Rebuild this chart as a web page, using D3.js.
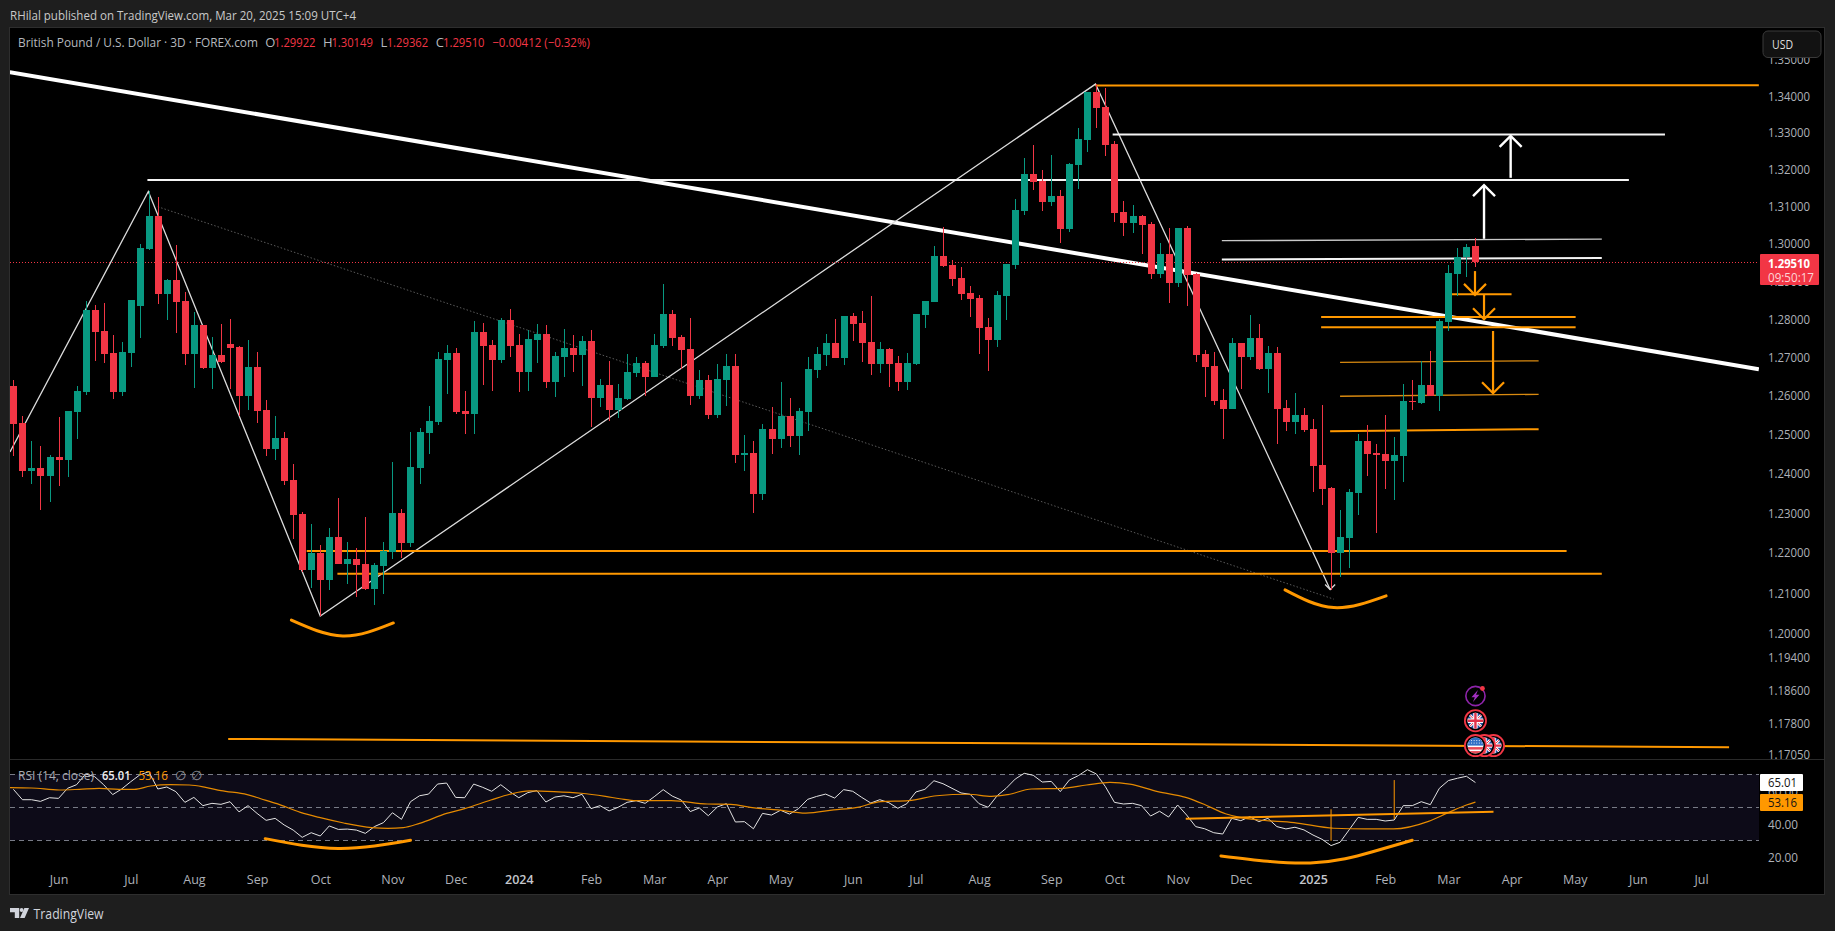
<!DOCTYPE html>
<html><head><meta charset="utf-8"><title>GBP/USD 3D</title>
<script src="https://cdn.jsdelivr.net/npm/d3@7"></script>
<style>html,body{margin:0;padding:0;background:#1e1e1e;overflow:hidden}svg{display:block}text{font-family:"Open Sans","Liberation Sans",sans-serif}</style>
</head><body><svg id="c" width="1835" height="931"></svg>
<script>
const opens=[1.2625,1.2530,1.2406,1.2414,1.2393,1.2442,1.2434,1.2557,1.2609,1.2823,
1.2768,1.2710,1.2609,1.2710,1.2834,1.2985,1.3073,1.2865,1.2902,1.2847,
1.2708,1.2784,1.2671,1.2705,1.2734,1.2726,1.2599,1.2674,1.2563,1.2462,
1.2491,1.2383,1.2297,1.2157,1.2199,1.2132,1.2239,1.2172,1.2184,1.2172,
1.2109,1.2167,1.2202,1.2300,1.2224,1.2414,1.2503,1.2532,1.2692,1.2710,
1.2560,1.2552,1.2765,1.2731,1.2692,1.2797,1.2731,1.2661,1.2744,1.2760,
1.2635,1.2700,1.2724,1.2705,1.2742,1.2594,1.2627,1.2563,1.2591,1.2658,
1.2684,1.2648,1.2729,1.2813,1.2752,1.2721,1.2599,1.2640,1.2550,1.2640,
1.2677,1.2447,1.2452,1.2348,1.2514,1.2488,1.2547,1.2496,1.2557,1.2666,
1.2705,1.2737,1.2697,1.2807,1.2789,1.2739,1.2682,1.2721,1.2684,1.2635,
1.2682,1.2810,1.2844,1.2966,1.2942,1.2908,1.2868,1.2855,1.2779,1.2744,
1.2860,1.2942,1.3087,1.3187,1.3168,1.3111,1.3127,1.3038,1.3211,1.3279,
1.3410,1.3369,1.3268,1.3084,1.3054,1.3073,1.3052,1.2918,1.2972,1.2894,
1.3041,1.2918,1.2708,1.2677,1.2588,1.2565,1.2737,1.2700,1.2750,1.2669,
1.2710,1.2568,1.2532,1.2550,1.2514,1.2421,1.2363,1.2199,1.2237,1.2351,
1.2483,1.2452,1.2450,1.2432,1.2444,1.2586,1.2581,1.2627,1.2599,1.2792,
1.2918,1.2964,1.29922];
const highs=[1.2640,1.2547,1.2483,1.2470,1.2447,1.2545,1.2560,1.2625,1.2847,1.2836,
1.2842,1.2758,1.2739,1.2850,1.2998,1.3141,1.3124,1.2905,1.2995,1.2871,
1.2818,1.2784,1.2752,1.2786,1.2799,1.2729,1.2744,1.2713,1.2588,1.2547,
1.2506,1.2424,1.2302,1.2272,1.2219,1.2262,1.2338,1.2227,1.2212,1.2290,
1.2174,1.2227,1.2429,1.2310,1.2506,1.2516,1.2573,1.2713,1.2731,1.2724,
1.2612,1.2794,1.2789,1.2744,1.2802,1.2826,1.2760,1.2771,1.2786,1.2784,
1.2713,1.2773,1.2758,1.2755,1.2771,1.2643,1.2690,1.2630,1.2708,1.2700,
1.2690,1.2760,1.2892,1.2823,1.2758,1.2802,1.2666,1.2653,1.2682,1.2708,
1.2708,1.2498,1.2483,1.2526,1.2570,1.2635,1.2594,1.2568,1.2700,1.2726,
1.2760,1.2799,1.2807,1.2815,1.2820,1.2860,1.2739,1.2724,1.2703,1.2710,
1.2813,1.2847,1.2993,1.3044,1.2956,1.2937,1.2887,1.2863,1.2802,1.2873,
1.2945,1.3119,1.3230,1.3265,1.3197,1.3238,1.3143,1.3216,1.3312,1.3410,
1.3432,1.3421,1.3276,1.3114,1.3103,1.3076,1.3057,1.3001,1.3041,1.3041,
1.3046,1.2921,1.2718,1.2713,1.2617,1.2750,1.2737,1.2810,1.2786,1.2729,
1.2726,1.2588,1.2607,1.2568,1.2539,1.2575,1.2366,1.2307,1.2361,1.2501,
1.2524,1.2475,1.2550,1.2493,1.2630,1.2640,1.2690,1.2716,1.2799,1.2942,
1.2988,1.2998,1.30149];
const lows=[1.2444,1.2391,1.2373,1.2307,1.2328,1.2368,1.2391,1.2488,1.2601,1.2690,
1.2684,1.2591,1.2599,1.2674,1.2750,1.2982,1.2839,1.2797,1.2763,1.2679,
1.2619,1.2669,1.2617,1.2684,1.2617,1.2547,1.2563,1.2529,1.2444,1.2434,
1.2371,1.2234,1.2152,1.2112,1.2042,1.2107,1.2172,1.2122,1.2089,1.2107,
1.2069,1.2097,1.2184,1.2187,1.2214,1.2373,1.2450,1.2524,1.2604,1.2552,
1.2501,1.2501,1.2627,1.2612,1.2684,1.2700,1.2609,1.2612,1.2684,1.2619,
1.2596,1.2648,1.2661,1.2625,1.2519,1.2570,1.2534,1.2542,1.2588,1.2648,
1.2599,1.2648,1.2724,1.2729,1.2669,1.2575,1.2591,1.2539,1.2542,1.2573,
1.2427,1.2406,1.2300,1.2333,1.2450,1.2465,1.2467,1.2447,1.2509,1.2645,
1.2677,1.2697,1.2679,1.2742,1.2687,1.2653,1.2658,1.2622,1.2612,1.2614,
1.2679,1.2776,1.2844,1.2937,1.2887,1.2850,1.2805,1.2708,1.2664,1.2726,
1.2797,1.2932,1.3076,1.3143,1.3087,1.3100,1.3001,1.3030,1.3146,1.3246,
1.3312,1.3235,1.3057,1.3020,1.3028,1.2972,1.2905,1.2908,1.2842,1.2884,
1.2834,1.2687,1.2596,1.2575,1.2488,1.2565,1.2617,1.2692,1.2666,1.2606,
1.2475,1.2509,1.2501,1.2506,1.2353,1.2320,1.2107,1.2139,1.2162,1.2295,
1.2393,1.2249,1.2361,1.2333,1.2378,1.2563,1.2578,1.2599,1.2560,1.2768,
1.2860,1.2910,1.29362];
const closes=[1.2527,1.2406,1.2414,1.2393,1.2442,1.2434,1.2560,1.2612,1.2823,1.2765,
1.2708,1.2609,1.2713,1.2850,1.2988,1.3073,1.2865,1.2902,1.2844,1.2708,
1.2784,1.2671,1.2705,1.2687,1.2724,1.2599,1.2674,1.2560,1.2462,1.2491,
1.2381,1.2295,1.2157,1.2199,1.2132,1.2239,1.2172,1.2184,1.2169,1.2109,
1.2169,1.2204,1.2300,1.2224,1.2416,1.2506,1.2534,1.2695,1.2710,1.2557,
1.2552,1.2765,1.2729,1.2692,1.2797,1.2729,1.2661,1.2747,1.2760,1.2635,
1.2703,1.2724,1.2705,1.2742,1.2594,1.2627,1.2563,1.2594,1.2661,1.2684,
1.2648,1.2731,1.2813,1.2750,1.2718,1.2599,1.2640,1.2550,1.2643,1.2677,
1.2447,1.2452,1.2348,1.2514,1.2488,1.2547,1.2496,1.2560,1.2669,1.2708,
1.2737,1.2697,1.2807,1.2786,1.2737,1.2682,1.2721,1.2682,1.2635,1.2684,
1.2813,1.2847,1.2966,1.2940,1.2905,1.2865,1.2852,1.2776,1.2744,1.2863,
1.2945,1.3089,1.3187,1.3165,1.3111,1.3127,1.3038,1.3214,1.3282,1.3410,
1.3366,1.3265,1.3081,1.3054,1.3073,1.3049,1.2918,1.2972,1.2894,1.3041,
1.2916,1.2705,1.2674,1.2586,1.2565,1.2737,1.2700,1.2750,1.2669,1.2710,
1.2565,1.2532,1.2550,1.2511,1.2419,1.2360,1.2199,1.2239,1.2353,1.2483,
1.2450,1.2447,1.2432,1.2447,1.2586,1.2583,1.2627,1.2599,1.2794,1.2921,
1.2964,1.2990,1.29510];
const rsi=[60.9,54.6,54.6,53.6,55.8,55.4,61.5,63.7,70.2,68.6,63.7,57.7,61.1,65.5,69.6,71.6,61.1,62.3,59.5,53,
56,51,52.4,51.8,53.4,47.2,51,46.3,42.1,43.3,39.3,36.2,31.8,34.6,32.6,38.7,36.6,36.8,36.2,34.2,
38.3,40.7,46.7,42.7,53.4,57,58,64.1,64.7,56,55.8,64.1,62.1,59.7,63.7,59.5,55.8,58.9,60.1,53.2,
56.2,57,55.8,57.9,49.2,51,47.8,50,
53,54,52.4,56.4,60.7,56.8,54.4,47.4,49.6,44.9,50.2,52.2,41.1,41.3,37,46.3,45.3,48.2,45.9,49.2,
54.8,56.6,58,55.6,60.7,59.7,56,52.6,54.6,52.8,49.4,52.2,59.3,60.9,66.1,64.3,61.5,58.7,57.9,52.2,
50,57,61.5,67.1,70.6,69.4,65.3,65.7,59.5,66.5,69.2,72.8,70.2,62.5,53,52,52.4,51,44.7,47.6,
44.1,51.4,45.3,38.3,37,34.6,33.8,43.3,41.9,
44.3,41.3,43.3,38.3,36.9,37.9,36.3,33.2,30.6,26.8,28.8,36.3,43.9,42.7,42.7,41.7,42.3,51,51,53.4,
51.6,61.5,66.2,67.6,68.8,65.01];
const rsiMaBars=[-0.4,2,5.1,7.3,9.5,11.7,13.4,15.2,17.4,19.5,21.3,23,25.9,27.4,29.2,31.8,34,36.6,39.7,41.5,43.2,45,48,50,52.9,55,57.2,59.9,62.9,65.6,67.2,69,72.9,76.9,79.5,82.1,84.7,87.8,90.9,93.5,96.1,99.2,102.3,105.8,108.4,110.2,112.8,116.3,118.9,121.5,123.7,126.8,129.9,132.1,134.3,135.9,138,141.9,146.3,149.8,152.9,156.8,159,161,162];
const rsiMaVals=[61.9,61.7,60.5,60.9,61.5,60.9,60.9,62.9,63.7,63.5,62.1,60.1,57.7,55.2,52.2,46.9,43.7,40.5,37.7,37.2,37.7,40.3,46.3,49.2,54.4,57.9,59.9,59.5,58.5,56.6,55.2,54,54,52,51.8,49.6,48.4,46.5,48.4,50,53.4,54,57,57.9,56.6,57.7,61.1,61.5,63.5,65.1,64.1,59.5,56,51.4,46.1,43.9,42.3,40.7,37.3,36.9,36.9,41.5,46.8,51.4,53.16];
const priceTicks=[1.35,1.34,1.33,1.32,1.31,1.30,1.29,1.28,1.27,1.26,1.25,1.24,1.23,1.22,1.21,1.20,1.194,1.186,1.178,1.1705];
const rsiTicks=[60,40,20];
const timeTickBars=[5,13,20,27,34,42,49,56,64,71,78,85,93,100,107,115,122,129,136,144,152,159,166,173,180,187];
const timeTickLabels=["Jun","Jul","Aug","Sep","Oct","Nov","Dec","2024","Feb","Mar","Apr","May","Jun","Jul","Aug","Sep","Oct","Nov","Dec","2025","Feb","Mar","Apr","May","Jun","Jul"];
const trendline=[[-0.4,1.3465],[193.4,1.2668]];
const zigzag=[[-0.38,1.2455],[14.95,1.3139],[34,1.2042],[119.9,1.3432],[145.9,1.2108]];
const dottedLine=[[16,1.3098],[146.3,1.2084]];
const whiteLevelsThick=[[14.85,1.3170,179,1.3170],[121.8,1.3294,183,1.3294],[133.9,1.2957,176,1.2961]];
const whiteLevelsThin=[[133.9,1.3007,176,1.3011]];
const orangeLevels=[[119.9,1.3428,193.4,1.3429],[32.5,1.2204,172.1,1.2204],[35.9,1.2147,176,1.2147],[144.9,1.2805,173.1,1.2805],[144.9,1.2778,173.1,1.2778],[159.4,1.2865,166,1.2865],[145.9,1.2508,169,1.2513],[23.8,1.1742,190.1,1.1722]];
const orangeLevelsThin=[[147,1.2686,169,1.2690],[147,1.2598,169,1.2603]];
const whiteArrows=[[165.9,1.3176,1.3290],[162.95,1.3012,1.3156]];
const orangeArrows=[[161.95,1.2926,1.2863],[162.95,1.2863,1.2799],[163.95,1.2768,1.2606]];
const priceArcs=[[[30.8,1.2032],[36.5,1.1993],[42.1,1.2025]],[[140.9,1.2107],[146.3,1.2063],[152.1,1.2092]]];
const rsiArcs=[[[27.9,31],[36,25.1],[44,30]],[[133.8,20.5],[143.7,16.3],[150.6,23.1],[155,30]]];
const rsiLevels=[70,50,30];
const rsiTrend=[[129.9,43.1],[164,47.3]];
const rsiVerticals=[[146,48.8,29.7],[153,66.5,42.9]];
const eventMarkers=[[162,1.1846,"flash"],[162,1.1786,"uk"],[164,1.1726,"uk"],[163,1.1726,"uk"],[162,1.1726,"us"]];

const GREEN="#089981",RED="#f23645",OR="#ff9800",AX="#aeb1b8";
const svg=d3.select("#c");
const defs=svg.append("defs");
const PL=10,PR=1759,PT=28,PB=759,RB=871;
defs.append("clipPath").attr("id","cm").append("rect").attr("x",PL).attr("y",PT).attr("width",PR-PL).attr("height",PB-PT);
defs.append("clipPath").attr("id","cr").append("rect").attr("x",PL).attr("y",PB).attr("width",PR-PL).attr("height",RB-PB);
defs.append("clipPath").attr("id","fl").append("circle").attr("r",8);

const x=d3.scaleLinear().domain([0,162]).range([13.4,1475.45]);
const y=d3.scaleLog().domain([1.17,1.35]).range([756.4,59.5]);
const ry=d3.scaleLinear().domain([30,70]).range([840.3,774.3]);
const px=b=>Math.round(x(b));

svg.append("rect").attr("width",1835).attr("height",931).attr("fill","#1e1e1e");
svg.append("rect").attr("x",9.5).attr("y",27.5).attr("width",1815).attr("height",867).attr("fill","#000").attr("stroke","#2e2e2e").attr("stroke-width",1);
svg.append("line").attr("x1",10).attr("x2",1824).attr("y1",759.5).attr("y2",759.5).attr("stroke","#2a2a2a");

function txt(g,s,xp,yp,size,fill,w,o={}){
  const t=g.append("text").attr("x",xp).attr("y",yp).attr("font-size",size).attr("fill",fill).attr("dominant-baseline","central").text(s);
  if(w){t.attr("textLength",w).attr("lengthAdjust","spacingAndGlyphs");}
  if(o.weight)t.attr("font-weight",o.weight);
  if(o.anchor)t.attr("text-anchor",o.anchor);
  return t;
}

// RSI band
svg.append("rect").attr("x",PL).attr("width",PR-PL).attr("y",ry(70)).attr("height",ry(30)-ry(70)).attr("fill","#0d0b18");
svg.append("g").selectAll("line").data(rsiLevels).join("line").attr("x1",PL).attr("x2",PR).attr("y1",d=>Math.round(ry(d))+.5).attr("y2",d=>Math.round(ry(d))+.5).attr("stroke","#787b86").attr("stroke-dasharray","5 4");

// axes
const priceAxis=d3.axisRight(y).tickValues(priceTicks).tickFormat(d3.format(".5f")).tickSize(0).tickPadding(0);
const gp=svg.append("g").attr("transform","translate(1768,0)").call(priceAxis);
const rsiAxis=d3.axisRight(ry).tickValues(rsiTicks).tickFormat(d3.format(".2f")).tickSize(0).tickPadding(0);
const gr=svg.append("g").attr("transform","translate(1768,0)").call(rsiAxis);
const timeAxis=d3.axisBottom(x).tickValues(timeTickBars).tickFormat((d,i)=>timeTickLabels[i]).tickSize(0).tickPadding(0);
const gt=svg.append("g").attr("transform","translate(0,876)").call(timeAxis);
[gp,gr,gt].forEach(g=>{g.select(".domain").remove();g.selectAll("text").attr("fill",AX).attr("font-size",12.5).attr("font-family","'Open Sans',sans-serif");});
gp.selectAll("text").attr("dy","0.35em").attr("textLength",42).attr("lengthAdjust","spacingAndGlyphs");
gr.selectAll("text").attr("dy","0.35em").attr("textLength",30).attr("lengthAdjust","spacingAndGlyphs");
gt.selectAll("text").attr("dy","0.6em").filter((d,i)=>/^20/.test(timeTickLabels[i])).attr("font-weight",600).attr("fill","#c4c6cc");

// main pane drawings
const m=svg.append("g").attr("clip-path","url(#cm)");
const ln=d3.line().x(d=>x(d[0])).y(d=>y(d[1]));
const segs=(g,data,w,col)=>g.append("g").selectAll("line").data(data).join("line")
  .attr("x1",d=>x(d[0])).attr("y1",d=>y(d[1])).attr("x2",d=>x(d[2])).attr("y2",d=>y(d[3])).attr("stroke",col).attr("stroke-width",w);
m.append("path").attr("d",ln(dottedLine)).attr("fill","none").attr("stroke","#5a5a5a").attr("stroke-width",1).attr("stroke-dasharray","1.5 2");
m.append("path").attr("d",ln(trendline)).attr("fill","none").attr("stroke","#fff").attr("stroke-width",4);
m.append("path").attr("d",ln(zigzag)).attr("fill","none").attr("stroke","#dcdcdc").attr("stroke-width",1.3);
segs(m,whiteLevelsThick,2,"#f4f4f4");
segs(m,whiteLevelsThin,1.3,"#c8c8c8");
segs(m,orangeLevels,2,OR);
segs(m,orangeLevelsThin,1.3,"#d98a10");
const arc=d3.line().x(d=>x(d[0])).y(d=>y(d[1])).curve(d3.curveNatural);
m.append("g").selectAll("path").data(priceArcs).join("path").attr("d",arc).attr("fill","none").attr("stroke",OR).attr("stroke-width",3).attr("stroke-linecap","round");
function arrows(g,data,col,w){
  const a=g.append("g").attr("fill","none").attr("stroke",col).attr("stroke-width",w);
  a.selectAll("line").data(data).join("line").attr("x1",d=>x(d[0])).attr("x2",d=>x(d[0])).attr("y1",d=>y(d[1])).attr("y2",d=>y(d[2]));
  a.selectAll("path").data(data).join("path").attr("d",d=>{const X=x(d[0]),Y=y(d[2]),s=Y<y(d[1])?1:-1;return `M${X-11},${Y+s*11}L${X},${Y}L${X+11},${Y+s*11}`;});
}
arrows(m,whiteArrows,"#fff",2.4);
arrows(m,orangeArrows,OR,2.2);
// arrow head at zigzag end
const zz=zigzag[zigzag.length-1];
m.append("path").attr("d",`M${x(zz[0])-5},${y(zz[1])-5}L${x(zz[0])},${y(zz[1])}L${x(zz[0])+5},${y(zz[1])-5}`).attr("fill","none").attr("stroke","#dcdcdc").attr("stroke-width",1.3);
// last price line
m.append("line").attr("x1",PL).attr("x2",PR).attr("y1",Math.round(y(1.2951))+.5).attr("y2",Math.round(y(1.2951))+.5).attr("stroke",RED).attr("stroke-dasharray","1 2");

// candles
const idx=d3.range(opens.length);
const col=i=>closes[i]>=opens[i]?GREEN:RED;
const cg=m.append("g").attr("shape-rendering","crispEdges");
cg.selectAll("line").data(idx).join("line").attr("x1",i=>px(i)+.5).attr("x2",i=>px(i)+.5).attr("y1",i=>y(highs[i])).attr("y2",i=>y(lows[i])).attr("stroke",col);
cg.selectAll("rect").data(idx).join("rect").attr("x",i=>px(i)-3).attr("width",7)
 .attr("y",i=>y(Math.max(opens[i],closes[i]))).attr("height",i=>Math.max(1,Math.abs(y(opens[i])-y(closes[i])))).attr("fill",col);

// event markers
function ukFlag(g){
  g.append("circle").attr("r",8).attr("fill","#1f4e9c");
  const c=g.append("g").attr("clip-path","url(#fl)");
  c.append("path").attr("d","M-9,-9L9,9M9,-9L-9,9").attr("stroke","#fff").attr("stroke-width",2.6);
  c.append("path").attr("d","M-9,-9L9,9M9,-9L-9,9").attr("stroke","#e0324a").attr("stroke-width",1);
  c.append("path").attr("d","M0,-9V9M-9,0H9").attr("stroke","#fff").attr("stroke-width",4.4);
  c.append("path").attr("d","M0,-9V9M-9,0H9").attr("stroke","#e0324a").attr("stroke-width",2.4);
}
function usFlag(g){
  g.append("circle").attr("r",8).attr("fill","#fff");
  const c=g.append("g").attr("clip-path","url(#fl)");
  c.append("rect").attr("x",-9).attr("y",1.5).attr("width",18).attr("height",2.5).attr("fill","#e84a55");
  c.append("rect").attr("x",-9).attr("y",5.5).attr("width",18).attr("height",3.5).attr("fill","#e84a55");
  c.append("rect").attr("x",-9).attr("y",-9).attr("width",18).attr("height",9).attr("fill","#2f6fc4");
  c.append("path").attr("d","M-7,-5H7M-7,-2.5H7").attr("stroke","#dfe9f7").attr("stroke-width",1).attr("stroke-dasharray","1 1.6");
}
eventMarkers.forEach(([b,p,k])=>{
  const g=m.append("g").attr("transform",`translate(${x(b)},${y(p)})`);
  if(k==="flash"){
    g.append("circle").attr("r",9.6).attr("fill","#000").attr("stroke","#8e24aa").attr("stroke-width",1.6);
    g.append("path").attr("d","M2.5,-6L-4,1.2H-.6L-2.5,6L4,-1.2H.6Z").attr("fill","#a32fc1");
    g.append("circle").attr("cx",7).attr("cy",-7.5).attr("r",2.4).attr("fill",RED);
  } else {
    g.append("circle").attr("r",10.6).attr("fill","#000").attr("stroke",RED).attr("stroke-width",1.8);
    (k==="uk"?ukFlag:usFlag)(g);
  }
});

// RSI pane
const r=svg.append("g").attr("clip-path","url(#cr)");
const rl=d3.line().x((d,i)=>x(i)).y(d=>ry(d));
r.append("path").attr("d",rl(rsi)).attr("fill","none").attr("stroke","#e3e3e3").attr("stroke-width",1);
const maPts=d3.zip(rsiMaBars,rsiMaVals);
r.append("path").attr("d",d3.line().x(d=>x(d[0])).y(d=>ry(d[1])).curve(d3.curveMonotoneX)(maPts)).attr("fill","none").attr("stroke","#e58a00").attr("stroke-width",1.2);
r.append("path").attr("d",d3.line().x(d=>x(d[0])).y(d=>ry(d[1]))(rsiTrend)).attr("fill","none").attr("stroke",OR).attr("stroke-width",2);
r.append("g").selectAll("line").data(rsiVerticals).join("line").attr("x1",d=>x(d[0])).attr("x2",d=>x(d[0])).attr("y1",d=>ry(d[1])).attr("y2",d=>ry(d[2])).attr("stroke",OR).attr("stroke-width",1);
const rarc=d3.line().x(d=>x(d[0])).y(d=>ry(d[1])).curve(d3.curveNatural);
r.append("g").selectAll("path").data(rsiArcs).join("path").attr("d",rarc).attr("fill","none").attr("stroke",OR).attr("stroke-width",3).attr("stroke-linecap","round");

// header
txt(svg,"RHilal published on TradingView.com, Mar 20, 2025 15:09 UTC+4",10,15,13,"#c9c9c9",346);
txt(svg,"British Pound / U.S. Dollar · 3D · FOREX.com",18,41.5,13,"#b5b8be",240);
[["O",265.3,"1.29922",274],["H",323,"1.30149",331.4],["L",380.4,"1.29362",386.7],["C",435.7,"1.29510",443]].forEach(([a,ax,b,bx])=>{
  txt(svg,a,ax,41.5,13,"#b5b8be");
  txt(svg,b,bx,41.5,13,RED,41.5);
});
txt(svg,"−0.00412 (−0.32%)",492.3,41.5,13,RED,97.5);
// RSI legend
txt(svg,"RSI (14, close)",18,775,12.5,"#a9abb2",76);
txt(svg,"65.01",102,775,12.5,"#f0f0f0",28.5,{weight:600});
txt(svg,"53.16",138.4,775,12.5,OR,29.6);
txt(svg,"∅",175,775,12.5,"#8d8f96");
txt(svg,"∅",191,775,12.5,"#8d8f96");
// price label
svg.append("rect").attr("x",1760).attr("y",254).attr("width",59).attr("height",31).attr("rx",1).attr("fill",RED);
txt(svg,"1.29510",1768,262.5,13,"#fff",42,{weight:700});
txt(svg,"09:50:17",1768,277,13,"#fdd5d8",46);
// RSI labels
svg.append("rect").attr("x",1760).attr("y",774).attr("width",43).attr("height",17).attr("rx",1).attr("fill","#fff");
txt(svg,"65.01",1768,782.5,12.5,"#131313",29);
svg.append("rect").attr("x",1760).attr("y",794).attr("width",43).attr("height",17).attr("rx",1).attr("fill",OR);
txt(svg,"53.16",1768,802.5,12.5,"#131313",29);
// USD button
svg.append("rect").attr("x",1763).attr("y",31).attr("width",58).attr("height",26.5).attr("rx",5).attr("fill","#121212").attr("stroke","#3a3a3a");
txt(svg,"USD",1772,44.5,12.5,"#dfdfdf",21);
// logo
const lg=svg.append("g").attr("fill","#d1d4dc");
lg.append("path").attr("d","M10,908h9.2v10h-4.4v-5.7h-4.8Z");
lg.append("circle").attr("cx",21.6).attr("cy",910).attr("r",1.9);
lg.append("path").attr("d","M29,908l-4.4,10h-4.6l4.4,-10Z");
txt(svg,"TradingView",33.6,913.5,14,"#d1d4dc",70);
</script></body></html>
